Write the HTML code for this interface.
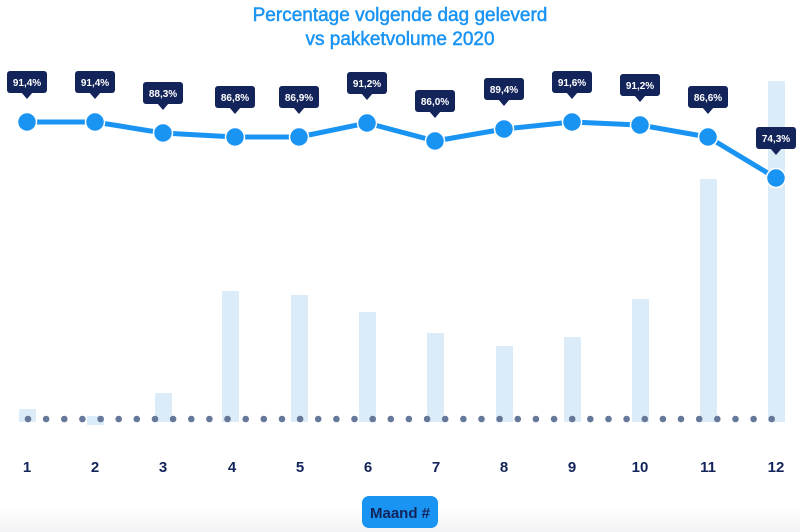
<!DOCTYPE html>
<html><head><meta charset="utf-8"><style>
html,body{margin:0;padding:0;background:#fff;}
svg{display:block;font-family:"Liberation Sans",sans-serif;}
</style></head><body>
<svg width="800" height="532" viewBox="0 0 800 532" xmlns="http://www.w3.org/2000/svg">
<defs>
<linearGradient id="g" x1="0" y1="0" x2="0" y2="1"><stop offset="0" stop-color="#fff"/><stop offset="1" stop-color="#f3f3f5"/></linearGradient>
<g id="lb"><rect x="-20" y="-51" width="40" height="22" rx="3" fill="#13245a"/><polygon points="-6,-30 6,-30 0,-23" fill="#13245a"/></g>
</defs>
<rect x="0" y="508" width="800" height="24" fill="url(#g)"/>
<text x="400" y="21" text-anchor="middle" font-size="19" fill="#1a94f2" stroke="#1a94f2" stroke-width="0.5">Percentage volgende dag geleverd</text>
<text x="400" y="45" text-anchor="middle" font-size="19" fill="#1a94f2" stroke="#1a94f2" stroke-width="0.5">vs pakketvolume 2020</text>
<g fill="#dcebf8">
<rect x="19" y="409" width="17" height="13"/>
<rect x="87" y="416" width="17" height="9"/>
<rect x="155" y="393" width="17" height="29"/>
<rect x="222" y="291" width="17" height="131"/>
<rect x="291" y="295" width="17" height="127"/>
<rect x="359" y="312" width="17" height="110"/>
<rect x="427" y="333" width="17" height="89"/>
<rect x="496" y="346" width="17" height="76"/>
<rect x="564" y="337" width="17" height="85"/>
<rect x="632" y="299" width="17" height="123"/>
<rect x="700" y="179" width="17" height="243"/>
<rect x="768" y="81" width="17" height="341"/>
</g>
<g fill="#66789a">
<circle cx="28" cy="419" r="3.3"/><circle cx="46.1" cy="419" r="3.3"/><circle cx="64.3" cy="419" r="3.3"/><circle cx="82.4" cy="419" r="3.3"/><circle cx="100.6" cy="419" r="3.3"/><circle cx="118.7" cy="419" r="3.3"/><circle cx="136.8" cy="419" r="3.3"/><circle cx="155" cy="419" r="3.3"/><circle cx="173.1" cy="419" r="3.3"/><circle cx="191.3" cy="419" r="3.3"/><circle cx="209.4" cy="419" r="3.3"/><circle cx="227.5" cy="419" r="3.3"/><circle cx="245.7" cy="419" r="3.3"/><circle cx="263.8" cy="419" r="3.3"/><circle cx="282" cy="419" r="3.3"/><circle cx="300.1" cy="419" r="3.3"/><circle cx="318.2" cy="419" r="3.3"/><circle cx="336.4" cy="419" r="3.3"/><circle cx="354.5" cy="419" r="3.3"/><circle cx="372.7" cy="419" r="3.3"/><circle cx="390.8" cy="419" r="3.3"/><circle cx="408.9" cy="419" r="3.3"/><circle cx="427.1" cy="419" r="3.3"/><circle cx="445.2" cy="419" r="3.3"/><circle cx="463.4" cy="419" r="3.3"/><circle cx="481.5" cy="419" r="3.3"/><circle cx="499.6" cy="419" r="3.3"/><circle cx="517.8" cy="419" r="3.3"/><circle cx="535.9" cy="419" r="3.3"/><circle cx="554.1" cy="419" r="3.3"/><circle cx="572.2" cy="419" r="3.3"/><circle cx="590.3" cy="419" r="3.3"/><circle cx="608.5" cy="419" r="3.3"/><circle cx="626.6" cy="419" r="3.3"/><circle cx="644.8" cy="419" r="3.3"/><circle cx="662.9" cy="419" r="3.3"/><circle cx="681" cy="419" r="3.3"/><circle cx="699.2" cy="419" r="3.3"/><circle cx="717.3" cy="419" r="3.3"/><circle cx="735.5" cy="419" r="3.3"/><circle cx="753.6" cy="419" r="3.3"/><circle cx="771.7" cy="419" r="3.3"/>
</g>
<polyline fill="none" stroke="#1a94f2" stroke-width="5" stroke-linejoin="round" points="27,122 95,122 163,133 235,137 299,137 367,123 435,141 504,129 572,122 640,125 708,137 776,178"/>
<g fill="#1a94f2" stroke="#fff" stroke-width="1.5">
<circle cx="27" cy="122" r="9.5"/><circle cx="95" cy="122" r="9.5"/><circle cx="163" cy="133" r="9.5"/><circle cx="235" cy="137" r="9.5"/><circle cx="299" cy="137" r="9.5"/><circle cx="367" cy="123" r="9.5"/><circle cx="435" cy="141" r="9.5"/><circle cx="504" cy="129" r="9.5"/><circle cx="572" cy="122" r="9.5"/><circle cx="640" cy="125" r="9.5"/><circle cx="708" cy="137" r="9.5"/><circle cx="776" cy="178" r="9.5"/>
</g>
<g font-size="10" font-weight="bold" fill="#fff" text-anchor="middle">
<g transform="translate(27,122)"><use href="#lb"/><text y="-36">91,4%</text></g>
<g transform="translate(95,122)"><use href="#lb"/><text y="-36">91,4%</text></g>
<g transform="translate(163,133)"><use href="#lb"/><text y="-36">88,3%</text></g>
<g transform="translate(235,137)"><use href="#lb"/><text y="-36">86,8%</text></g>
<g transform="translate(299,137)"><use href="#lb"/><text y="-36">86,9%</text></g>
<g transform="translate(367,123)"><use href="#lb"/><text y="-36">91,2%</text></g>
<g transform="translate(435,141)"><use href="#lb"/><text y="-36">86,0%</text></g>
<g transform="translate(504,129)"><use href="#lb"/><text y="-36">89,4%</text></g>
<g transform="translate(572,122)"><use href="#lb"/><text y="-36">91,6%</text></g>
<g transform="translate(640,125)"><use href="#lb"/><text y="-36">91,2%</text></g>
<g transform="translate(708,137)"><use href="#lb"/><text y="-36">86,6%</text></g>
<g transform="translate(776,178)"><use href="#lb"/><text y="-36">74,3%</text></g>
</g>
<g font-size="15" font-weight="bold" fill="#13245a" text-anchor="middle">
<text x="27" y="472">1</text><text x="95" y="472">2</text><text x="163" y="472">3</text><text x="232" y="472">4</text><text x="300" y="472">5</text><text x="368" y="472">6</text><text x="436" y="472">7</text><text x="504" y="472">8</text><text x="572" y="472">9</text><text x="640" y="472">10</text><text x="708" y="472">11</text><text x="776" y="472">12</text>
</g>
<rect x="362" y="496" width="76" height="32" rx="7" fill="#1a94f2"/>
<text x="400" y="518" text-anchor="middle" font-size="15" font-weight="bold" fill="#13245a">Maand #</text>
</svg>
</body></html>
